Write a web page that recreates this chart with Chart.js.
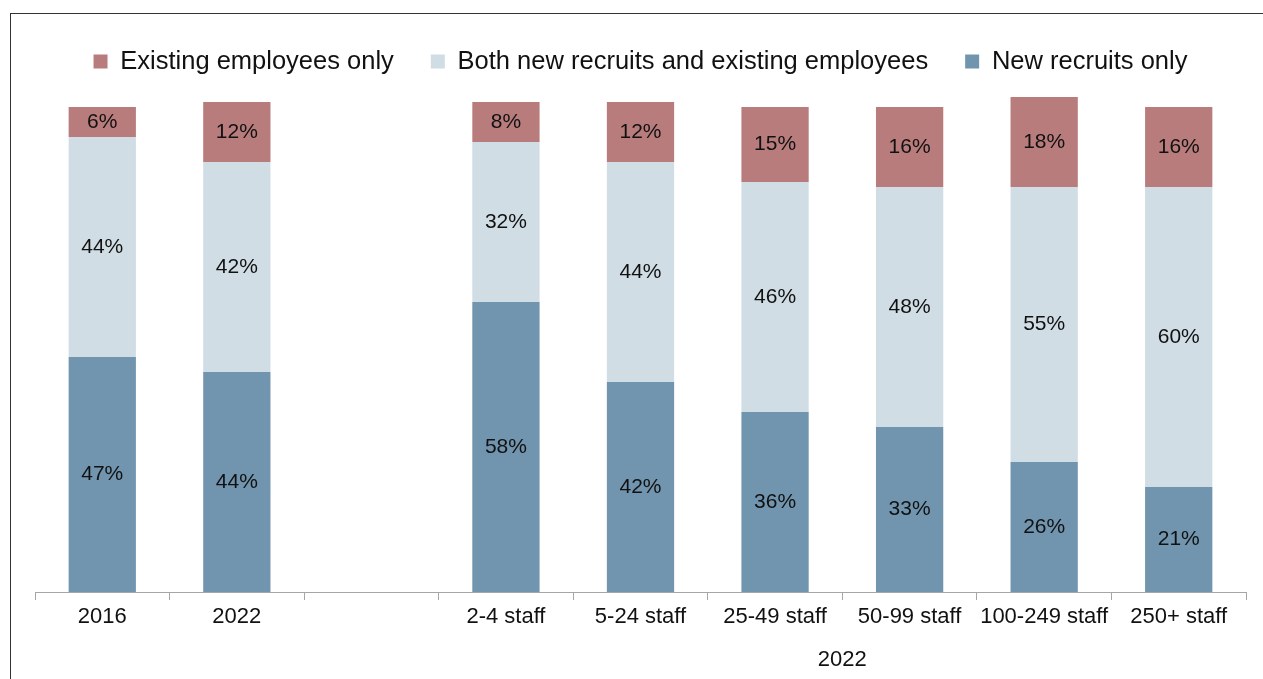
<!DOCTYPE html>
<html>
<head>
<meta charset="utf-8">
<script src="https://cdn.jsdelivr.net/npm/chart.js@4"></script>
<style>
  body { margin: 0; background: #fff; }
  #wrap { position: relative; width: 1263px; height: 679px; }
  #frame { position: absolute; left: 10px; top: 13px; right: 0; bottom: 0;
           border-top: 1px solid #333; border-left: 1px solid #333; pointer-events: none; }
</style>
</head>
<body>
<div id="wrap">
  <canvas id="myChart"></canvas>
  <div id="frame"></div>
</div>
<script>
// categories (third slot is the gap between the two groups)
const categories = ['2016', '2022', '', '2-4 staff', '5-24 staff', '25-49 staff', '50-99 staff', '100-249 staff', '250+ staff']
const groupLabel = '2022'

// series values, %
const newRecruits = [47, 44, null, 58, 42, 36, 33, 26, 21]
const bothGroups = [44, 42, null, 32, 44, 46, 48, 55, 60]
const existingOnly = [6, 12, null, 8, 12, 15, 16, 18, 16]

const seriesNames = ['New recruits only', 'Both new recruits and existing employees', 'Existing employees only']

const FONT = "'Liberation Sans', Arial, sans-serif"

// writes the % inside each bar segment
const segmentLabels = {
    id: 'segmentLabels',
    afterDatasetsDraw(chart) {
        const ctx = chart.ctx
        ctx.save()
        ctx.font = '21px ' + FONT
        ctx.fillStyle = '#111'
        ctx.textAlign = 'center'
        ctx.textBaseline = 'middle'
        chart.data.datasets.forEach((ds, i) => {
            chart.getDatasetMeta(i).data.forEach((bar, j) => {
                let v = ds.data[j]
                if (v == null) return
                ctx.fillText(v + '%', bar.x, (bar.y + bar.base) / 2)
            })
        })
        ctx.restore()
    }
}

const ctx = document.getElementById('myChart').getContext('2d')
new Chart(ctx, {
    type: 'bar',
    data: {
        labels: categories,
        datasets: [
            { label: seriesNames[0], data: newRecruits, backgroundColor: '#7195AE' },
            { label: seriesNames[1], data: bothGroups, backgroundColor: '#D0DDE5' },
            { label: seriesNames[2], data: existingOnly, backgroundColor: '#B97C7D' }
        ]
    },
    options: {
        responsive: true,
        maintainAspectRatio: false,
        animation: false,
        categoryPercentage: 1,
        barPercentage: 0.5,
        borderWidth: 0,
        layout: { padding: { left: 35, right: 17, top: 11.75, bottom: 5.8 } },
        plugins: {
            tooltip: { enabled: false },
            legend: {
                position: 'top',
                reverse: true,
                labels: {
                    boxWidth: 14,
                    boxHeight: 14,
                    padding: 37,
                    color: '#111',
                    font: { family: FONT, size: 25.5 }
                }
            }
        },
        scales: {
            x: {
                stacked: true,
                offset: true,
                grid: { offset: true, drawOnChartArea: false, tickLength: 8, color: '#a6a6a6' },
                border: { color: '#a6a6a6' },
                ticks: { color: '#111', padding: 4, font: { family: FONT, size: 22 }, maxRotation: 0, autoSkip: false }
            },
            x2: {
                type: 'linear',
                position: 'bottom',
                offset: false,
                min: 0,
                max: categories.length,
                grid: { display: false, tickLength: 12.4 },
                border: { display: false },
                // one tick in the middle of the staff-size group (categories 3..8)
                afterBuildTicks: (axis) => { axis.ticks = [{ value: 6 }] },
                ticks: { color: '#111', padding: 0, font: { family: FONT, size: 22 }, callback: () => groupLabel }
            },
            y: {
                stacked: true,
                display: false,
                min: 0,
                max: 101.55
            }
        }
    },
    plugins: [segmentLabels]
})
</script>
</body>
</html>
